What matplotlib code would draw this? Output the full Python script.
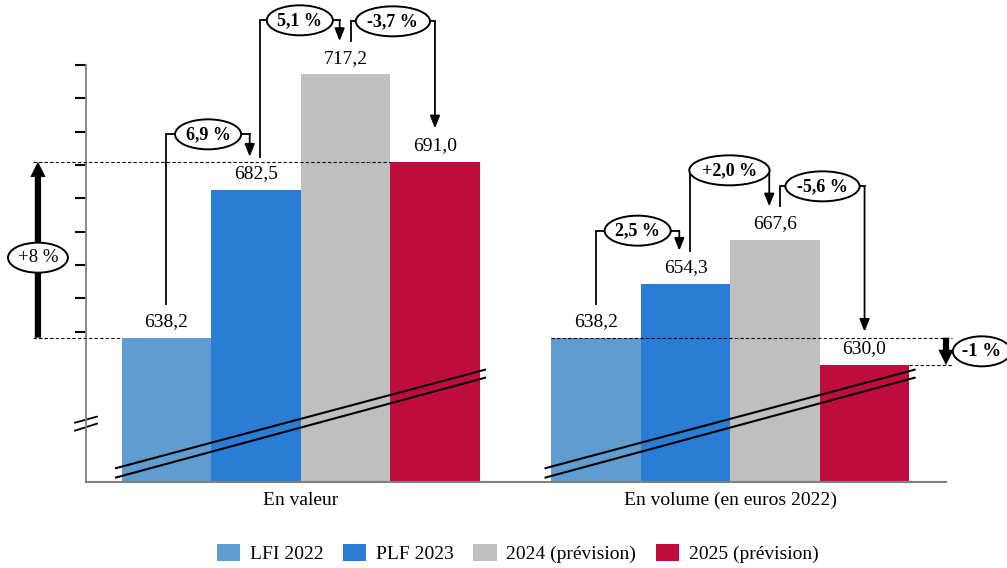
import matplotlib.pyplot as plt
from matplotlib.patches import Ellipse

plt.rcParams['font.family'] = ['Liberation Serif', 'DejaVu Serif']

# dépenses, en milliards d'euros
groups = ["En valeur", "En volume (en euros 2022)"]
series = ["LFI 2022", "PLF 2023", "2024 (prévision)", "2025 (prévision)"]
colors = ["#5F9DD0", "#2A7DD5", "#BFBFBF", "#C00C3C"]
valeur = [638.2, 682.5, 717.2, 691.0]
volume = [638.2, 654.3, 667.6, 630.0]

# évolutions d'une année sur l'autre : (de, vers, libellé, hauteur du crochet)
steps_valeur = [(0, 1, "6,9 %", 699.2), (1, 2, "5,1 %", 733.4), (2, 3, "-3,7 %", 733.1)]
steps_volume = [(0, 1, "2,5 %", 670.3), (1, 2, "+2,0 %", 688.4), (2, 3, "-5,6 %", 683.6)]
total_valeur = "+8 %"
total_volume = "-1 %"

group_gap = 4.8
ymin, ymax = 594.9, 720.0


def fr(v):
    return f"{v:.1f}".replace(".", ",")


fig = plt.figure(figsize=(10.07, 5.68), dpi=100)
ax = fig.add_axes([86 / 1007, 86 / 568, 866 / 1007, 417 / 568])
ax.set_xlim(-0.899, 8.777)
ax.set_ylim(ymin, ymax)
renderer = fig.canvas.get_renderer()

# pixels par unité de données (axes linéaires, taille fixe)
px_x = 866 / (8.777 + 0.899)
px_y = 417 / (ymax - ymin)

handles = []
for g, vals in enumerate([valeur, volume]):
    for i, v in enumerate(vals):
        x = g * group_gap + i
        b = ax.bar(x, v, width=1.0, color=colors[i], zorder=2)
        if g == 0:
            handles.append(b)
        ax.annotate(fr(v), (x, v), xytext=(0, 11.5), textcoords="offset points",
                    ha="center", va="center", fontsize=14)


def bubble(x, y, label, weight="bold", size=13):
    t = ax.text(x, y, label, ha="center", va="center", fontsize=size,
                fontweight=weight, zorder=6, clip_on=False)
    w = t.get_window_extent(renderer).width * 1.38 + 4
    ax.add_patch(Ellipse((x, y), w / px_x, 30 / px_y, fc="white", ec="black",
                         lw=1.4, zorder=5, clip_on=False))


def connector(x0, x1, y0, level, y1, label):
    ax.plot([x0, x0, x1], [y0, level, level], color="black", lw=1.3,
            clip_on=False, zorder=4, solid_joinstyle="miter")
    ax.annotate("", xy=(x1, y1), xytext=(x1, level), annotation_clip=False,
                arrowprops=dict(arrowstyle="-|>,head_width=0.3,head_length=0.75",
                                color="black", lw=1.3, mutation_scale=10,
                                shrinkA=0, shrinkB=0), zorder=4)
    bubble((x0 + x1) / 2, level, label)


start_dx = [0.0, 0.045, 0.06]
end_dx = [-0.07, -0.065, 0.0]
for g, (vals, steps) in enumerate([(valeur, steps_valeur), (volume, steps_volume)]):
    base = g * group_gap
    for k, (a, b, label, level) in enumerate(steps):
        connector(base + a + start_dx[k], base + b + end_dx[k],
                  vals[a] + 10, level, vals[b] + 10, label)

# lignes de repère pointillées
dash = dict(color="black", lw=0.8, ls=(0, (3, 2)), zorder=3, clip_on=False)
ax.plot([-1.49, -0.5], [valeur[0]] * 2, **dash)
ax.plot([-1.49, 2.5], [valeur[3]] * 2, **dash)
ax.plot([group_gap - 0.5, 8.777], [volume[0]] * 2, **dash)
ax.plot([group_gap + 3.5, 8.777], [volume[3]] * 2, **dash)


def big_arrow(x, y0, y1):
    ax.annotate("", xy=(x, y1), xytext=(x, y0), annotation_clip=False,
                arrowprops=dict(width=4.5, headwidth=11, headlength=11,
                                color="black", lw=0, shrink=0), zorder=4)


big_arrow(-1.436, valeur[0], valeur[3])
bubble(-1.436, 662.2, total_valeur, weight="normal", size=13.5)
big_arrow(8.71, volume[0], volume[3])
bubble(9.11, 634.1, total_volume, size=13.5)

# marques de rupture d'échelle
brk = dict(color="black", lw=1.5, zorder=3, clip_on=False)
for g in range(2):
    base = g * group_gap
    ax.plot([base - 0.564, base + 3.559], [599.06, 628.59], **brk)
    ax.plot([base - 0.564, base + 3.559], [596.24, 626.18], **brk)
ax.plot([-1.022, -0.777], [612.7, 614.5], color="black", lw=1.3, clip_on=False)
ax.plot([-1.022, -0.777], [610.3, 612.4], color="black", lw=1.3, clip_on=False)

# axes
for side in ["top", "right"]:
    ax.spines[side].set_visible(False)
ax.spines["left"].set_color("#808080")
ax.spines["left"].set_linewidth(1.3)
ax.spines["bottom"].set_color("#808080")
ax.spines["bottom"].set_linewidth(1.5)
ax.spines["bottom"].set_bounds(-0.899, 8.71)
ax.set_yticks(range(640, 721, 10))
ax.set_yticklabels([])
ax.tick_params(axis="y", length=8, width=1.5, color="black")
ax.set_xticks([1.5, group_gap + 1.5])
ax.set_xticklabels(groups, fontsize=14)
ax.tick_params(axis="x", length=0, pad=7)

fig.legend(handles, series, loc="center", bbox_to_anchor=(0.514, 0.026),
           ncol=4, frameon=False, fontsize=14, handlelength=1.2, handleheight=1.0,
           handletextpad=0.5, columnspacing=1.0)

fig.savefig("out.png", dpi=100)
